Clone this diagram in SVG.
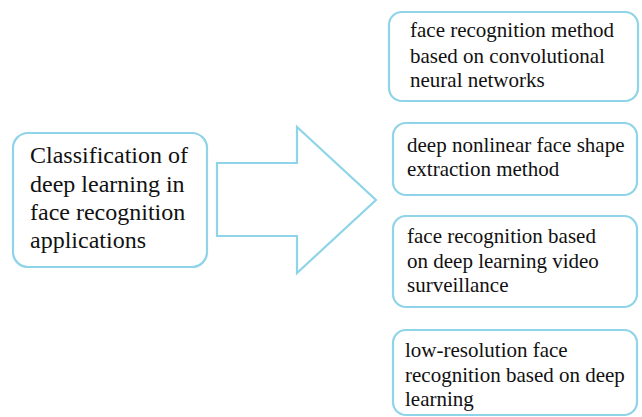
<svg xmlns="http://www.w3.org/2000/svg" width="642" height="417" viewBox="0 0 642 417">
<style>
.box{fill:#ffffff;stroke:#8fd4e8;stroke-width:2.2}
.t{font-family:'Liberation Serif','DejaVu Serif','Noto Serif',Times,serif;fill:#111111}
.big{font-size:24px}
.sm{font-size:21px}
</style>
<rect width="642" height="417" fill="#ffffff"/>
<g id="main">
<rect class="box" x="13" y="133" width="194" height="134" rx="15"/>
<text class="t big" x="30" y="163">Classification of</text>
<text class="t big" x="30" y="192">deep learning in</text>
<text class="t big" x="30" y="220">face recognition</text>
<text class="t big" x="30" y="248">applications</text>
</g>
<g id="connectors">
<polygon class="box" points="217,163 297,163 297,127 376,200 297,273 297,236 217,236"/>
</g>
<g id="n1">
<rect class="box" x="389" y="12" width="249" height="89" rx="13"/>
<text class="t sm" x="410" y="37">face recognition method</text>
<text class="t sm" x="410" y="63">based on convolutional</text>
<text class="t sm" x="410" y="87">neural networks</text>
</g>
<g id="n2">
<rect class="box" x="393" y="123" width="244" height="72" rx="13"/>
<text class="t sm" x="407" y="152">deep nonlinear face shape</text>
<text class="t sm" x="407" y="176">extraction method</text>
</g>
<g id="n3">
<rect class="box" x="393" y="216" width="244" height="91" rx="13"/>
<text class="t sm" x="407" y="243">face recognition based</text>
<text class="t sm" x="407" y="268">on deep learning video</text>
<text class="t sm" x="407" y="292">surveillance</text>
</g>
<g id="n4">
<rect class="box" x="393" y="330" width="244" height="85" rx="13"/>
<text class="t sm" x="405" y="357">low-resolution face</text>
<text class="t sm" x="405" y="382">recognition based on deep</text>
<text class="t sm" x="405" y="406">learning</text>
</g>
</svg>
